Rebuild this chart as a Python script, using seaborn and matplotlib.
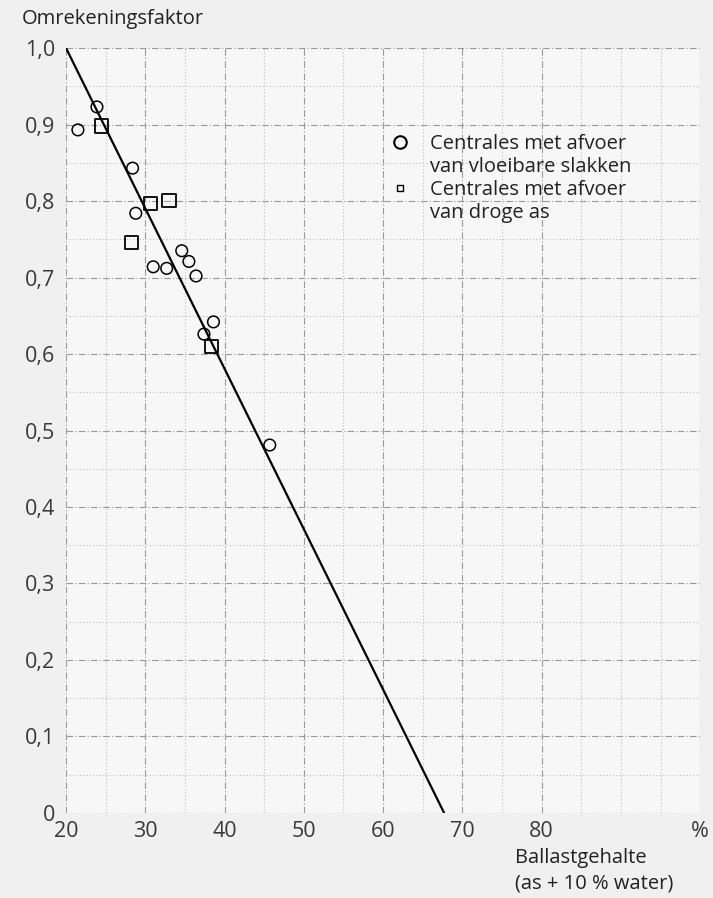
import pandas as pd
import seaborn as sns
import matplotlib.pyplot as plt
from matplotlib.lines import Line2D
from matplotlib.ticker import MultipleLocator, FuncFormatter

# data
circle_x = [23.9, 21.5, 28.4, 28.8, 31.0, 32.7, 34.6, 35.5, 36.4, 38.6, 37.4, 45.7]
circle_y = [0.923, 0.893, 0.843, 0.784, 0.714, 0.712, 0.735, 0.721, 0.702, 0.642, 0.626, 0.481]
square_x = [24.5, 30.7, 33.0, 28.3, 38.4]
square_y = [0.898, 0.797, 0.801, 0.746, 0.610]
line_x = [20.0, 67.7]
line_y = [1.0, 0.0]
xticks = [20, 30, 40, 50, 60, 70, 80, 100]
xtick_labels = ['20', '30', '40', '50', '60', '70', '80', '%']

df = pd.concat([
    pd.DataFrame({'x': circle_x, 'y': circle_y, 'soort': 'vloeibaar'}),
    pd.DataFrame({'x': square_x, 'y': square_y, 'soort': 'droog'}),
])
line_df = pd.DataFrame({'x': line_x, 'y': line_y})

sns.set_theme(style="whitegrid")
plt.rcParams['font.family'] = ['Open Sans', 'DejaVu Sans']

fig = plt.figure(figsize=(7.13, 8.98), dpi=100, facecolor='#f0f0f0')
ax = fig.add_axes([0.0926, 0.0947, 0.8894, 0.8518])
ax.set_facecolor('#f7f7f7')

# grid: major every 10 / 0.1, minor every 5 / 0.05
ax.xaxis.set_minor_locator(MultipleLocator(5))
ax.yaxis.set_minor_locator(MultipleLocator(0.05))
ax.grid(which='major', color='#9a9a9a', linestyle=(0, (6, 2, 1, 2)), linewidth=0.8)
ax.grid(which='minor', color='#bdbdbd', linestyle=(0, (1, 2)), linewidth=0.8)
ax.set_axisbelow(True)

sns.lineplot(data=line_df, x='x', y='y', ax=ax, color='black', linewidth=1.6)
sns.scatterplot(data=df[df.soort == 'vloeibaar'], x='x', y='y', ax=ax, marker='o',
                s=70, facecolor='none', edgecolor='black', linewidth=1.1, legend=False)
sns.scatterplot(data=df[df.soort == 'droog'], x='x', y='y', ax=ax, marker='s',
                s=90, facecolor='none', edgecolor='black', linewidth=1.3, legend=False)

ax.set_xlim(20, 100)
ax.set_ylim(0, 1.0)
ax.set_xticks(xticks)
ax.set_xticklabels(xtick_labels)
ax.yaxis.set_major_locator(MultipleLocator(0.1))
ax.yaxis.set_major_formatter(FuncFormatter(
    lambda v, p: '0' if abs(v) < 1e-9 else f'{v:.1f}'.replace('.', ',')))
ax.tick_params(axis='both', which='both', length=0, labelsize=15.5,
               labelcolor='#3a3a3a', pad=8)
ax.tick_params(axis='x', pad=6)
ax.set_xlabel('')
ax.set_ylabel('')
for s in ax.spines.values():
    s.set_visible(False)

fig.text(0.031, 0.979, 'Omrekeningsfaktor', fontsize=14.5, color='#222222',
         ha='left', va='center')
fig.text(0.722, 0.030, 'Ballastgehalte\n(as + 10 % water)', fontsize=14.5,
         color='#222222', ha='left', va='center', linespacing=1.35)

# legend: marker sits on the first line of each entry
blank = Line2D([], [], linestyle='none', marker=None)
handles = [
    Line2D([], [], marker='o', linestyle='none', markersize=9, markerfacecolor='none',
           markeredgecolor='black', markeredgewidth=1.5),
    blank,
    Line2D([], [], marker='s', linestyle='none', markersize=5, markerfacecolor='none',
           markeredgecolor='black', markeredgewidth=1.0),
    blank,
]
labels = ['Centrales met afvoer', 'van vloeibare slakken',
          'Centrales met afvoer', 'van droge as']
ax.legend(handles, labels, loc='upper left', bbox_to_anchor=(0.498, 0.898),
          frameon=False, fontsize=14.5, handletextpad=1.0, labelspacing=0.15,
          handlelength=1.0, labelcolor='#222222', borderaxespad=0)

fig.savefig('out.png', dpi=100, facecolor=fig.get_facecolor())
